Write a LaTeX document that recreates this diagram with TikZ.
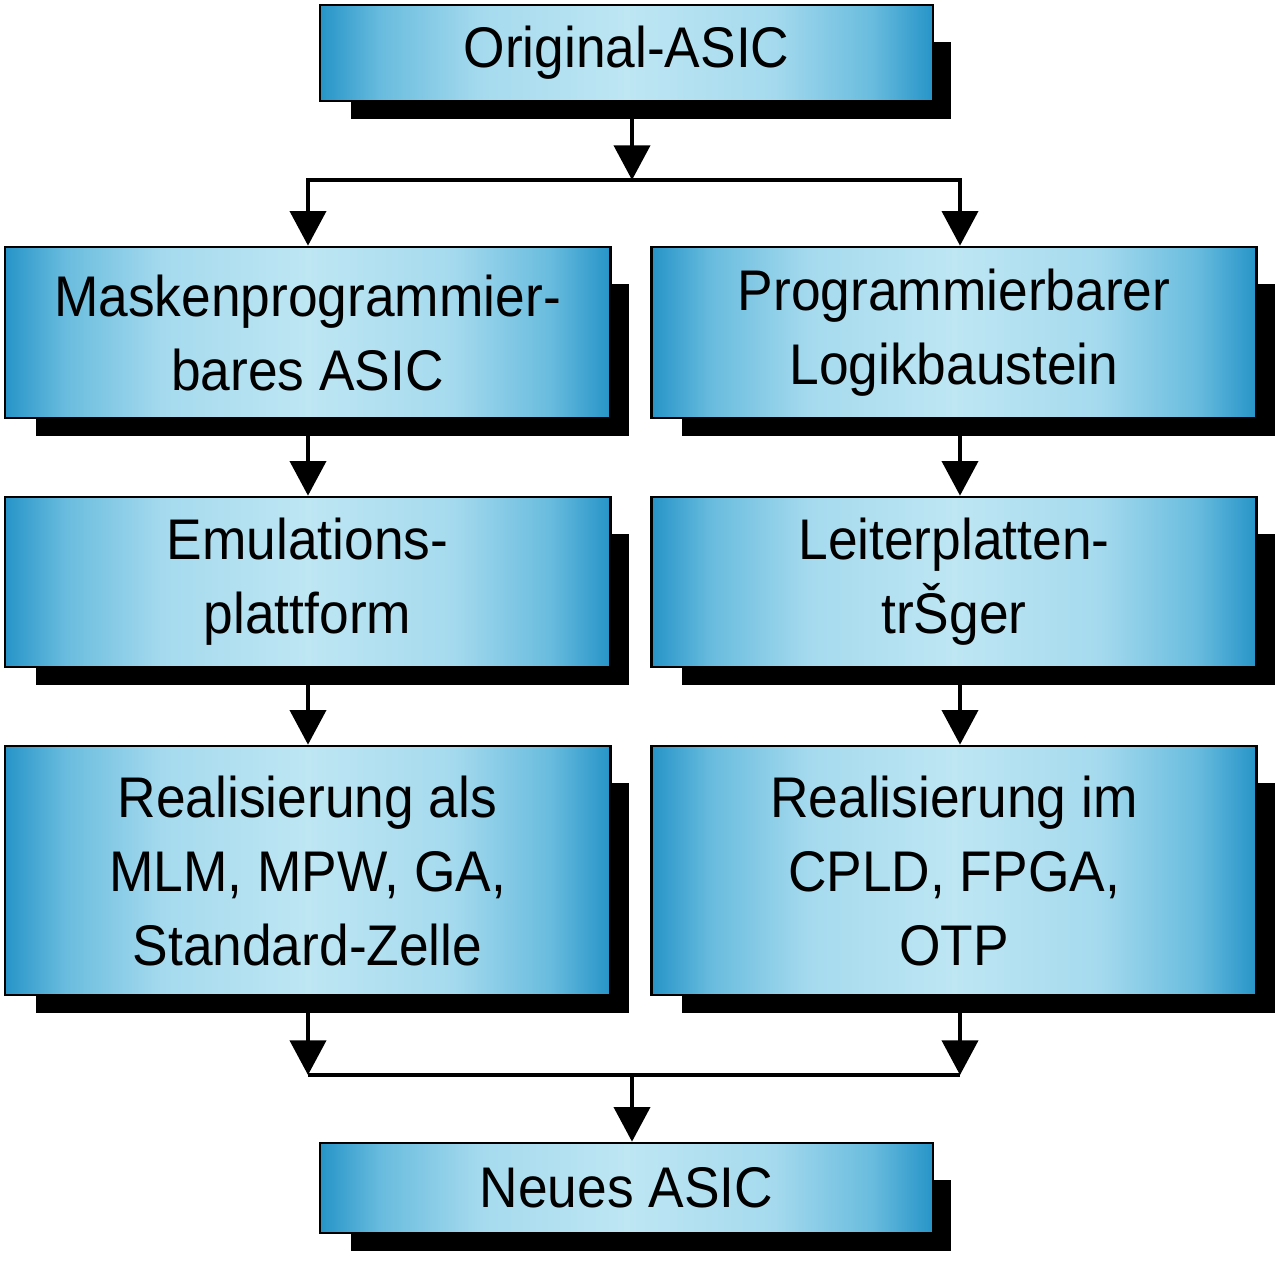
\documentclass[tikz,border=0pt]{standalone}
\usepackage{fontspec}
\setmainfont[FakeStretch=0.93]{Liberation Sans}
\usetikzlibrary{arrows.meta,calc,backgrounds}
\definecolor{edgeblue}{RGB}{38,148,200}
\definecolor{stepblue}{RGB}{105,188,222}
\definecolor{lightblue}{RGB}{165,218,238}
\definecolor{midblue}{RGB}{190,230,243}
\pgfdeclarehorizontalshading{boxshade}{100bp}{color(0bp)=(edgeblue); color(25bp)=(edgeblue); color(30bp)=(stepblue); color(38bp)=(lightblue); color(50bp)=(midblue); color(62bp)=(lightblue); color(70bp)=(stepblue); color(75bp)=(edgeblue); color(100bp)=(edgeblue)}
\tikzset{
  box/.style={draw=black, line width=2pt, shading=boxshade,
    inner sep=0pt, align=center, font=\fontsize{43}{55.5}\selectfont},
  conn/.style={line width=3pt},
  arr/.style={conn, -{Triangle[length=26pt,width=27pt]}},
}
\newcommand{\shadowof}[1]{\fill[black] ($(#1.north west)+(32,38)$) rectangle ($(#1.south east)+(17,17)$);}
\begin{document}
\begin{tikzpicture}[x=0.75pt,y=-0.75pt]
\useasboundingbox (0,0) rectangle (1280,1261);
\node[box, minimum width=459.75pt, minimum height=72pt] (top) at (626.5,53) {Original-ASIC};
\node[box, minimum width=454pt, minimum height=128.25pt] (m1) at (307.5,332.5) {Maskenprogrammier-\\bares ASIC};
\node[box, minimum width=454pt, minimum height=128.25pt] (p1) at (954,332.5) {Programmierbarer\\Logikbaustein};
\node[box, minimum width=454pt, minimum height=127.5pt] (m2) at (307.5,582) {Emulations-\\plattform};
\node[box, minimum width=454pt, minimum height=127.5pt] (p2) at (954,582) {Leiterplatten-\\trŠger};
\node[box, minimum width=454pt, minimum height=186.75pt] (m3) at (307.5,870.5) {Realisierung als\\MLM, MPW, GA,\\Standard-Zelle};
\node[box, minimum width=454pt, minimum height=186.75pt] (p3) at (954,870.5) {Realisierung im\\CPLD, FPGA,\\OTP};
\node[box, minimum width=459.75pt, minimum height=67.5pt] (bot) at (626.5,1188) {Neues ASIC};
\begin{scope}[on background layer]
\fill[white] (0,0) rectangle (1280,1261);
\shadowof{top}\shadowof{m1}\shadowof{p1}\shadowof{m2}\shadowof{p2}\shadowof{m3}\shadowof{p3}\shadowof{bot}
\end{scope}
\coordinate (s) at (632,180);
\coordinate (ls) at (308,180);
\coordinate (rs) at (960,180);
\coordinate (lb) at (308,1075);
\coordinate (rb) at (960,1075);
\coordinate (mb) at (632,1075);
\draw[arr] (top.south -| s) -- (s);
\draw[conn, {Triangle[length=26pt,width=27pt]}-{Triangle[length=26pt,width=27pt]}] (m1.north -| ls) -- (ls) -- (rs) -- (p1.north -| rs);
\draw[arr] (m1.south -| ls) -- (m2.north -| ls);
\draw[arr] (m2.south -| ls) -- (m3.north -| ls);
\draw[arr] (p1.south -| rs) -- (p2.north -| rs);
\draw[arr] (p2.south -| rs) -- (p3.north -| rs);
\draw[arr] (m3.south -| lb) -- (lb);
\draw[arr] (p3.south -| rb) -- (rb);
\draw[conn] (lb) -- (rb);
\draw[arr] (mb) -- (bot.north -| mb);
\end{tikzpicture}
\end{document}
